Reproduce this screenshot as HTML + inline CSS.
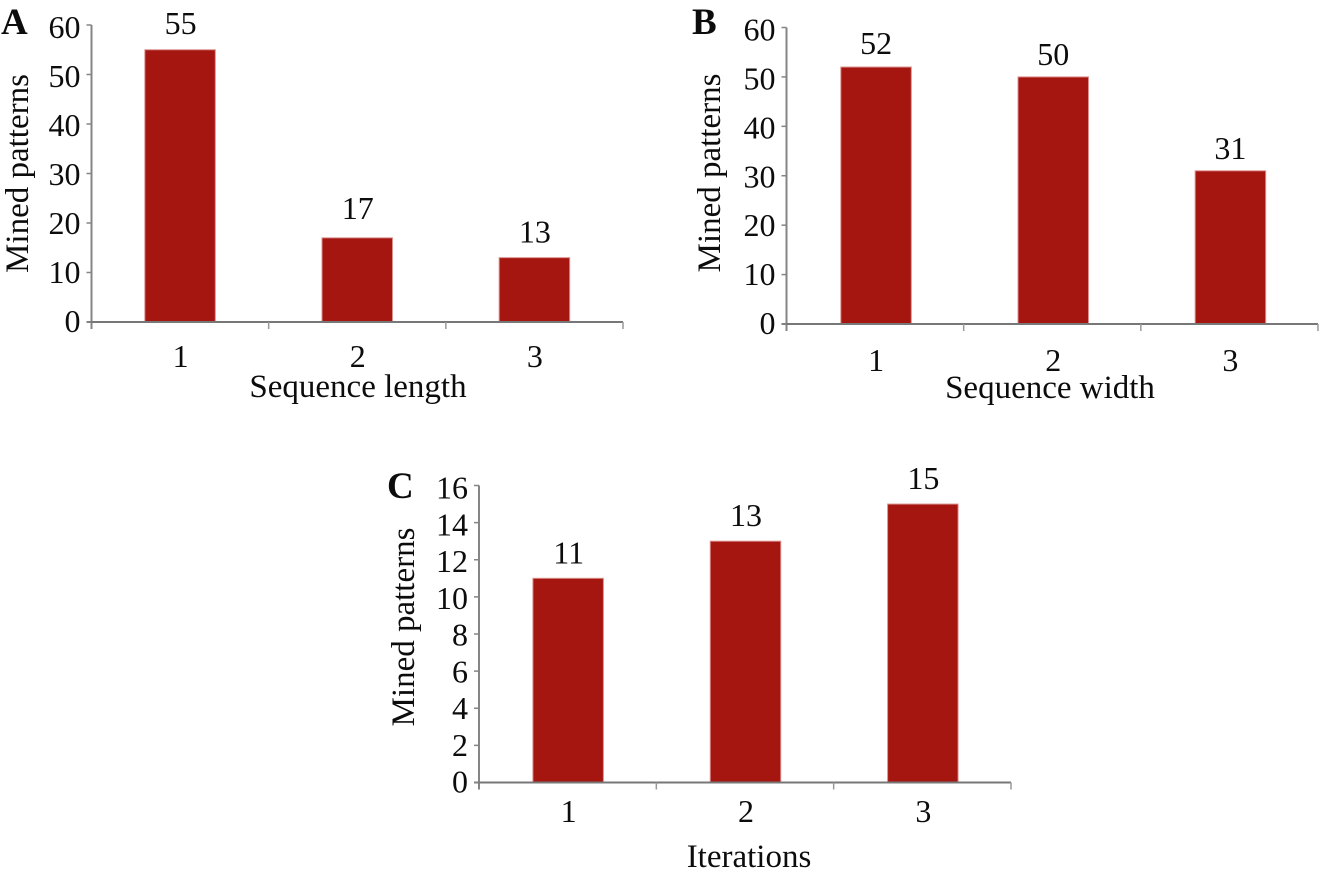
<!DOCTYPE html>
<html lang="en">
<head>
<meta charset="utf-8">
<title>Mined patterns charts</title>
<style>
html,body{margin:0;padding:0;background:#fff;}
svg{display:block;}
text{font-family:"Liberation Serif","Times New Roman",serif;fill:#0c0c0c;}
</style>
</head>
<body>
<svg id="figure" width="1321" height="875" viewBox="0 0 1321 875" xmlns="http://www.w3.org/2000/svg"></svg>
<script>
const categoriesA = ["1", "2", "3"];
const valuesA = [55, 17, 13];
const yTicksA = [0, 10, 20, 30, 40, 50, 60];

const categoriesB = ["1", "2", "3"];
const valuesB = [52, 50, 31];
const yTicksB = [0, 10, 20, 30, 40, 50, 60];

const categoriesC = ["1", "2", "3"];
const valuesC = [11, 13, 15];
const yTicksC = [0, 2, 4, 6, 8, 10, 12, 14, 16];

const NS = "http://www.w3.org/2000/svg";
const fig = document.getElementById("figure");

function add(parent, tag, attrs, txt) {
  const el = document.createElementNS(NS, tag);
  for (const k in attrs) el.setAttribute(k, attrs[k]);
  if (txt !== undefined) el.textContent = txt;
  parent.appendChild(el);
  return el;
}

function drawChart(id, cats, vals, ticks, box) {
  const g = add(fig, "g", {});
  
  
  const yMax = ticks[ticks.length - 1];
  const y = v => box.y0 - (v / yMax) * (box.y0 - box.yTop);
  const band = (box.xEnd - box.x0) / cats.length;
  const xc = i => box.x0 + band * (i + 0.5);
  const barW = 70.5;

  const panel = add(g, "text", {x: box.letterX, y: box.letterY, "font-size": 37, "font-weight": "bold"}, box.letter);
  
  

  vals.forEach((v, i) => {
    const bar = add(g, "rect", {
      x: xc(i) - barW / 2 + box.barShift, y: y(v), width: barW, height: box.y0 - y(v),
      fill: "#a51611", stroke: "#dc8f8c", "stroke-width": 1
    });
    
    
    const label = add(g, "text", {
      x: xc(i) + box.catShift, y: y(v) - box.labelGap - box.labelLift[i], "font-size": 32, "text-anchor": "middle"
    }, String(v));
    
    
  });

  const yAxis = add(g, "line", {x1: box.x0, x2: box.x0, y1: box.yTop, y2: box.y0 + 7, stroke: "#858585", "stroke-width": 2});
  
  
  const xAxis = add(g, "line", {x1: box.x0 - 5, x2: box.xEnd, y1: box.y0, y2: box.y0, stroke: "#777777", "stroke-width": 2});
  
  

  ticks.forEach(t => {
    const tick = add(g, "line", {x1: box.x0 - 5, x2: box.x0, y1: y(t), y2: y(t), stroke: "#858585", "stroke-width": 1.5});
    
    
    const tl = add(g, "text", {x: box.x0 - 11, y: y(t) + 10 + 3 * (t / yMax), "font-size": 32, "text-anchor": "end"}, String(t));
    
    
  });

  for (let i = 1; i <= cats.length; i++) {
    const px = box.x0 + band * i;
    const tick = add(g, "line", {x1: px, x2: px, y1: box.y0, y2: box.y0 + 7, stroke: "#999999", "stroke-width": 1.5});
    
    
  }

  cats.forEach((c, i) => {
    const cl = add(g, "text", {x: xc(i) + box.catShift, y: box.catY, "font-size": 32, "text-anchor": "middle"}, c);
    
    
  });

  const xt = add(g, "text", {x: box.xTitleX, y: box.xTitleY, "font-size": 33, "text-anchor": "middle"}, box.xTitle);
  
  

  const yt = add(g, "text", {
    x: 0, y: 0, "font-size": 33, "text-anchor": "middle",
    transform: "translate(" + box.yTitleX + " " + box.yTitleY + ") rotate(-90)"
  }, "Mined patterns");
  
  
}

drawChart("a", categoriesA, valuesA, yTicksA, {
  x0: 91.5, xEnd: 623, yTop: 25, y0: 322, labelGap: 16, labelLift: [0, 3, -1],
  barShift: 0, catShift: 0.5,
  letter: "A", letterX: 1, letterY: 34,
  catY: 367, xTitle: "Sequence length", xTitleX: 358, xTitleY: 397,
  yTitleX: 28, yTitleY: 173.5
});
drawChart("b", categoriesB, valuesB, yTicksB, {
  x0: 786.5, xEnd: 1318, yTop: 27.5, y0: 324, labelGap: 12, labelLift: [1, 0, 0],
  barShift: 1, catShift: 1,
  letter: "B", letterX: 692, letterY: 34,
  catY: 371, xTitle: "Sequence width", xTitleX: 1050, xTitleY: 398,
  yTitleX: 720, yTitleY: 173
});
drawChart("c", categoriesC, valuesC, yTicksC, {
  x0: 479, xEnd: 1011, yTop: 485.5, y0: 782.5, labelGap: 15, labelLift: [0, 0, 0],
  barShift: 0.5, catShift: 1,
  letter: "C", letterX: 387, letterY: 498,
  catY: 822, xTitle: "Iterations", xTitleX: 749, xTitleY: 867,
  yTitleX: 414, yTitleY: 627
});
</script>
</body>
</html>
